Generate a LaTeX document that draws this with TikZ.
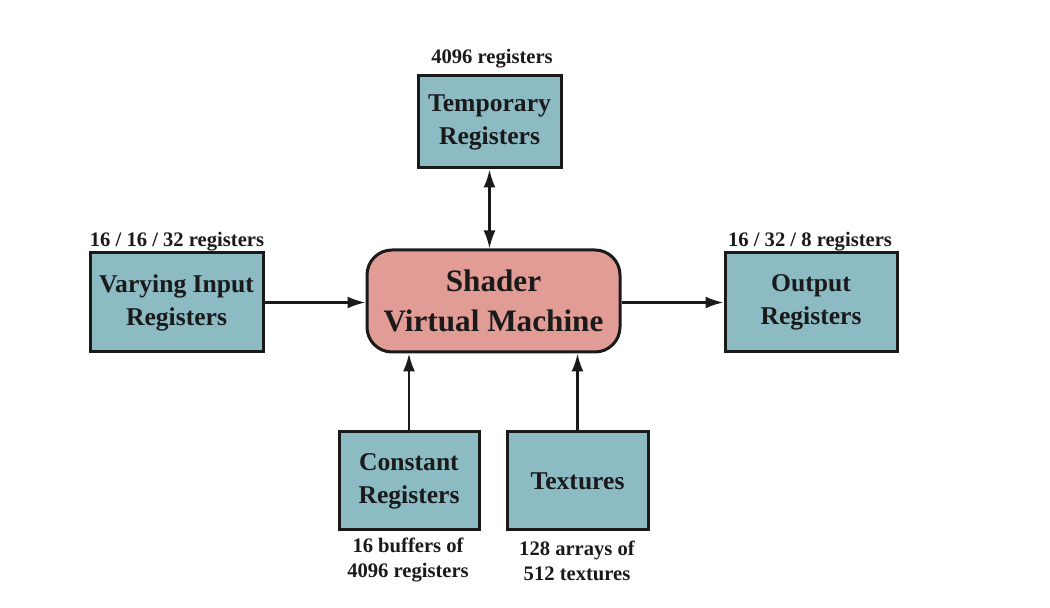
\documentclass[tikz,border=0pt]{standalone}
\usepackage{fontspec}
\setmainfont{Liberation Serif}
\usetikzlibrary{arrows.meta, positioning, calc}
\definecolor{regfill}{HTML}{8CBBC4}
\definecolor{vmfill}{HTML}{E29C96}
\definecolor{ink}{HTML}{1A1A1A}

\tikzset{
    regbox/.style={draw=ink, line width=1.5pt, fill=regfill, align=center,
        font=\bfseries\fontsize{12.8}{16.5}\selectfont, text=ink, inner sep=0pt},
    vmbox/.style={draw=ink, line width=1.5pt, fill=vmfill, align=center,
        rounded corners=12.5pt, font=\bfseries\fontsize{15.6}{20}\selectfont,
        text=ink, minimum width=126.5pt, minimum height=51pt, inner sep=0pt},
    reglabel/.style={align=center, font=\bfseries\fontsize{10.3}{12.5}\selectfont,
        text=ink, inner sep=0pt},
    flow/.style={draw=ink, line width=1.2pt, -{Latex[length=9pt, width=6pt]}},
    bothflow/.style={flow, {Latex[length=9pt, width=6pt]}-{Latex[length=9pt, width=6pt]}}
}

\begin{document}
\begin{tikzpicture}[x=0.5pt, y=-0.5pt]
    \useasboundingbox (0,0) rectangle (1050,608);

    % machine in the middle
    \node[vmbox] (svm) at (493.5,301) {Shader\\Virtual Machine};

    % register files round it
    \node[regbox, minimum width=71.5pt, minimum height=46pt] (temp) at (489.5,122) {Temporary\\Registers};
    \node[regbox, minimum width=86.5pt, minimum height=49.5pt] (vary) at (176.5,302.5) {Varying Input\\Registers};
    \node[regbox, minimum width=86pt, minimum height=49.5pt] (outp) at (811,302.5) {Output\\Registers};
    \node[regbox, minimum width=70pt, minimum height=49pt] (const) at (409,481) {Constant\\Registers};
    \node[regbox, minimum width=70.5pt, minimum height=49pt] (tex) at (577.5,481) {Textures};

    % sizes
    \node[reglabel] (templbl) at (492,59) {4096 registers};
    \node[reglabel] (varylbl) at (177,242) {16 / 16 / 32 registers};
    \node[reglabel] (outplbl) at (810,242) {16 / 32 / 8 registers};
    \node[reglabel] (constlbl) at (408,560.5) {16 buffers of\\4096 registers};
    \node[reglabel] (texlbl) at (577,560.5) {128 arrays of\\512 textures};

    % connections
    \draw[bothflow] (temp.south) -- (temp.south |- svm.north);
    \draw[flow] (vary.east) -- (vary.east -| svm.west);
    \draw[flow] (svm.east |- outp.west) -- (outp.west);
    \draw[flow] (const.north) -- (const.north |- svm.south);
    \draw[flow] (tex.north) -- (tex.north |- svm.south);

\end{tikzpicture}
\end{document}
